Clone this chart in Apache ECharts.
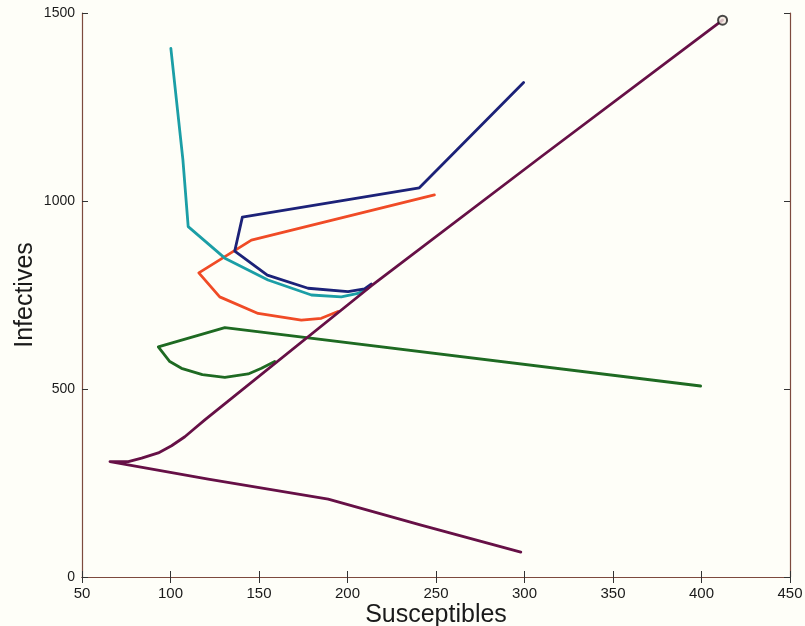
<!DOCTYPE html>
<html>
<head>
<meta charset="utf-8">
<script src="https://cdn.jsdelivr.net/npm/echarts@6/dist/echarts.min.js"></script>
<style>
  html, body { margin: 0; padding: 0; background: #fefef8; }
  #chart { width: 805px; height: 626px; }
</style>
</head>
<body>
<div id="chart"></div>
<script>
// Phase-plane trajectories: [susceptibles, infectives]
const xTicks = [50, 100, 150, 200, 250, 300, 350, 400, 450];
const yTicks = [0, 500, 1000, 1500];

const blueTrack = [
  [299.5, 1315], [240.6, 1035], [140.6, 957], [136.3, 867], [154.7, 803],
  [177.7, 768], [200.3, 759], [209.6, 766], [213.4, 779]
];
const redTrack = [
  [249.1, 1016], [145.7, 896], [116.0, 809], [127.8, 745], [149.5, 701],
  [173.9, 683], [185.2, 688], [194.6, 706]
];
const cyanTrack = [
  [100.2, 1406], [107.0, 1110], [110.0, 932], [130.7, 848], [155.1, 790],
  [179.6, 750], [196.5, 745], [205.9, 754], [211.5, 768]
];
const greenTrack = [
  [399.5, 508], [130.7, 663], [93.1, 612], [99.6, 573], [106.2, 555],
  [118.0, 538], [130.7, 531], [143.9, 540], [151.4, 555], [158.9, 573]
];
const purpleTrack = [
  [297.9, 66], [241.6, 138], [189.1, 207], [121.3, 260], [65.8, 307],
  [76.2, 307], [83.7, 316], [93.1, 330], [100.6, 349], [108.1, 373],
  [113.6, 395], [119.4, 418], [213.4, 774], [309.2, 1117], [411.9, 1481]
];
const endPoint = [[411.9, 1481]];

const axisColor = '#7d4a3e';
const font = 'Liberation Sans, Arial, sans-serif';

function track(data, color) {
  return {
    type: 'line',
    data: data,
    showSymbol: false,
    symbol: 'none',
    smooth: false,
    lineStyle: { color: color, width: 2.8, join: 'round', cap: 'round' },
    animation: false
  };
}

const chart = echarts.init(document.getElementById('chart'));
chart.setOption({
  backgroundColor: '#fefef8',
  animation: false,
  grid: { left: 82, right: 15, top: 13, bottom: 49, containLabel: false, outerBoundsMode: 'none' },
  xAxis: [
    {
      type: 'value', min: xTicks[0], max: xTicks[xTicks.length - 1], interval: 50,
      name: 'Susceptibles', nameLocation: 'middle', nameGap: 26, nameMoveOverlap: false,
      nameTextStyle: { fontFamily: font, fontSize: 25, color: '#1a1a1a' },
      axisLine: { lineStyle: { color: axisColor, width: 1.2 } },
      axisTick: { inside: true, length: 6, lineStyle: { color: '#333' } },
      axisLabel: { fontFamily: font, fontSize: 15, color: '#1a1a1a', margin: 9 },
      splitLine: { show: false }
    },
    {
      type: 'value', position: 'top', min: xTicks[0], max: xTicks[xTicks.length - 1], interval: 50,
      axisLine: { show: true, lineStyle: { color: axisColor, width: 1.2 } },
      axisTick: { inside: true, length: 6, lineStyle: { color: '#333' } },
      axisLabel: { show: false },
      splitLine: { show: false }
    }
  ],
  yAxis: [
    {
      type: 'value', min: yTicks[0], max: yTicks[yTicks.length - 1], interval: 500,
      name: 'Infectives', nameLocation: 'middle', nameGap: 44, nameMoveOverlap: false,
      nameTextStyle: { fontFamily: font, fontSize: 25, color: '#1a1a1a' },
      axisLine: { show: true, lineStyle: { color: axisColor, width: 1.2 } },
      axisTick: { show: true, inside: true, length: 6, lineStyle: { color: '#333' } },
      axisLabel: {
        fontFamily: font, fontSize: 14, color: '#1a1a1a', margin: 7,
        formatter: function (v) { return String(v); }
      },
      splitLine: { show: false }
    },
    {
      type: 'value', position: 'right', min: yTicks[0], max: yTicks[yTicks.length - 1], interval: 500,
      axisLine: { show: true, lineStyle: { color: axisColor, width: 1.2 } },
      axisTick: { show: true, inside: true, length: 6, lineStyle: { color: '#333' } },
      axisLabel: { show: false },
      splitLine: { show: false }
    }
  ],
  series: [
    track(greenTrack, '#1e6a22'),
    track(redTrack, '#f04b26'),
    track(cyanTrack, '#1b9ea6'),
    track(blueTrack, '#1c2278'),
    track(purpleTrack, '#661046'),
    {
      type: 'scatter',
      data: endPoint,
      symbol: 'circle',
      symbolSize: 9,
      itemStyle: { color: '#f4e8e0', borderColor: '#1a1a1a', borderWidth: 2 },
      z: 5
    }
  ]
});
</script>
</body>
</html>
